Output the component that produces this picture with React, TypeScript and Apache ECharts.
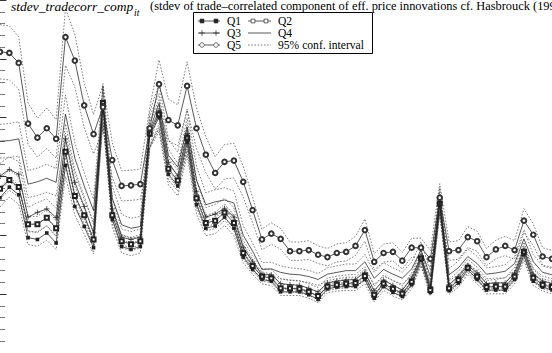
import React, { useEffect, useRef } from "react";
import * as echarts from "echarts";

// Periods (x categories; axis labels are cropped out of the reference)
const periods: string[] = Array.from({ length: 60 }, (_, i) => String(i + 1));

// stdev_tradecorr_comp by size quintile
const Q1 = [2.64, 2.82, 2.69, 1.96, 1.93, 2.04, 1.87, 3.19, 2.49, 2.15, 1.79, 4.27, 2.27, 1.81, 1.76, 1.81, 3.70, 4.00, 3.04, 2.84, 3.58, 2.52, 2.12, 2.16, 2.31, 2.12, 1.63, 1.42, 1.25, 1.22, 1.04, 1.04, 1.04, 0.99, 0.91, 1.09, 1.12, 1.13, 1.13, 1.25, 0.93, 1.13, 1.03, 0.96, 1.16, 1.58, 1.03, 2.52, 1.06, 1.19, 1.42, 1.25, 1.07, 1.07, 1.07, 1.25, 1.67, 1.22, 1.12, 1.07];
const Q2 = [2.79, 2.94, 2.82, 2.19, 2.19, 2.30, 2.12, 3.42, 2.67, 2.34, 1.93, 4.25, 2.34, 1.90, 1.85, 1.90, 3.73, 4.06, 3.13, 2.93, 3.66, 2.63, 2.21, 2.25, 2.39, 2.21, 1.70, 1.48, 1.30, 1.27, 1.10, 1.10, 1.09, 1.04, 0.97, 1.13, 1.16, 1.18, 1.19, 1.31, 0.99, 1.18, 1.09, 1.01, 1.21, 1.61, 1.07, 2.54, 1.10, 1.24, 1.45, 1.30, 1.12, 1.13, 1.13, 1.30, 1.72, 1.28, 1.16, 1.12];
const Q3 = [3.01, 3.12, 3.04, 2.31, 2.39, 2.45, 2.30, 3.64, 2.90, 2.49, 2.04, 4.24, 2.45, 1.97, 1.93, 1.97, 3.76, 4.12, 3.24, 3.01, 3.73, 2.75, 2.31, 2.36, 2.46, 2.31, 1.79, 1.55, 1.34, 1.33, 1.18, 1.16, 1.15, 1.10, 1.04, 1.19, 1.22, 1.24, 1.25, 1.37, 1.06, 1.24, 1.15, 1.07, 1.27, 1.64, 1.13, 2.57, 1.16, 1.30, 1.49, 1.36, 1.18, 1.19, 1.19, 1.36, 1.76, 1.34, 1.22, 1.18];
const Q4 = [3.60, 3.61, 3.64, 2.87, 2.91, 2.97, 2.90, 4.06, 3.31, 2.84, 2.42, 4.24, 2.63, 2.18, 2.12, 2.15, 3.79, 4.24, 3.36, 3.16, 3.84, 2.94, 2.52, 2.57, 2.60, 2.55, 2.00, 1.73, 1.42, 1.43, 1.37, 1.34, 1.33, 1.30, 1.25, 1.34, 1.37, 1.40, 1.40, 1.55, 1.27, 1.42, 1.34, 1.27, 1.43, 1.75, 1.30, 2.60, 1.33, 1.45, 1.64, 1.52, 1.34, 1.36, 1.39, 1.52, 1.94, 1.55, 1.37, 1.33];
const Q5 = [5.12, 5.10, 4.93, 3.90, 3.66, 3.82, 3.64, 5.37, 4.97, 4.21, 3.72, 4.18, 3.28, 2.84, 2.85, 2.87, 3.82, 4.57, 3.96, 3.87, 4.54, 3.82, 3.37, 3.06, 3.25, 3.27, 2.91, 2.43, 1.93, 2.03, 1.94, 1.73, 1.73, 1.75, 1.67, 1.63, 1.70, 1.72, 1.82, 2.09, 1.55, 1.70, 1.72, 1.57, 1.79, 1.79, 1.60, 2.64, 1.73, 1.75, 1.97, 1.90, 1.63, 1.76, 1.82, 1.75, 2.25, 2.01, 1.64, 1.60];

// 95% confidence-interval half-width, as a share of the estimate (read per quintile)
const CI_HALF_SHARE = [0.06, 0.06, 0.07, 0.08, 0.09];

const SERIES_NAMES = ["Q1", "Q2", "Q3", "Q4", "Q5"];
const CI_LABEL = "95% conf. interval";
const TITLE_VAR = "stdev_tradecorr_comp";
const TITLE_SUB = "it";
const TITLE_REST = "(stdev of trade–correlated component of eff. price innovations cf. Hasbrouck (1991))";

const SERIF = "'Liberation Serif', 'DejaVu Serif', 'Times New Roman', serif";
const INK = "#222";
const DOT = "#4a4a4a";
const PLUS = "path://M0,4L8,4M4,0L4,8";

export default function App() {
  const ref = useRef<HTMLDivElement>(null);

  useEffect(() => {
    if (!ref.current) return;
    const chart = echarts.init(ref.current, null, { renderer: "svg" });
    const data = [Q1, Q2, Q3, Q4, Q5];

    const markerStyles: any[] = [
      { symbol: "rect", symbolSize: 3.6, itemStyle: { color: INK } },
      { symbol: "emptyRect", symbolSize: 4, itemStyle: { color: INK, borderWidth: 0.7 } },
      { symbol: PLUS, symbolSize: 5.5, itemStyle: { color: "none", borderColor: INK, borderWidth: 0.7 } },
      { symbol: "none", symbolSize: 0, itemStyle: { color: INK } },
      { symbol: "emptyCircle", symbolSize: 4.6, itemStyle: { color: "#333", borderWidth: 0.7 } },
    ];

    const series: any[] = [];
    data.forEach((vals, qi) => {
      const h = CI_HALF_SHARE[qi];
      [1 + h, 1 - h].forEach((f) => {
        series.push({
          type: "line",
          name: CI_LABEL,
          data: vals.map((v) => +(v * f).toFixed(3)),
          symbol: "none",
          silent: true,
          z: 2,
          lineStyle: { color: DOT, width: 0.7, type: [1.6, 1.6] },
        });
      });
    });
    data.forEach((vals, qi) => {
      const m = markerStyles[qi];
      series.push({
        type: "line",
        name: SERIES_NAMES[qi],
        data: vals,
        symbol: m.symbol,
        symbolSize: m.symbolSize,
        showSymbol: m.symbol !== "none",
        itemStyle: m.itemStyle,
        z: 3 + qi,
        lineStyle: { color: INK, width: 0.75 },
      });
    });

    const ly = [21, 33, 45];
    const c1 = { l0: 198, l1: 220, m0: 202, m1: 216, tx: 227 };
    const c2 = { l0: 248, l1: 271, m0: 253, m1: 266, tx: 278 };
    const txt = (x: number, y: number, t: string) => ({
      type: "text",
      x,
      y,
      style: { text: t, fill: "#000", font: `11.6px ${SERIF}`, lineHeight: 11, verticalAlign: "middle" },
      z: 101,
    });
    const seg = (c: any, y: number, dashed = false) => ({
      type: "line",
      shape: { x1: c.l0, y1: y, x2: c.l1, y2: y },
      style: { stroke: dashed ? DOT : INK, lineWidth: 0.75, lineDash: dashed ? [1.6, 1.6] : null },
      z: 101,
    });
    const sq = (x: number, y: number, filled: boolean) => ({
      type: "rect",
      shape: { x: x - 1.9, y: y - 1.9, width: 3.8, height: 3.8 },
      style: { fill: filled ? INK : "#fff", stroke: INK, lineWidth: 0.7 },
      z: 102,
    });
    const plus = (x: number, y: number) => ({
      type: "group",
      z: 102,
      children: [
        { type: "line", shape: { x1: x - 2.8, y1: y, x2: x + 2.8, y2: y }, style: { stroke: INK, lineWidth: 0.7 }, z: 102 },
        { type: "line", shape: { x1: x, y1: y - 2.8, x2: x, y2: y + 2.8 }, style: { stroke: INK, lineWidth: 0.7 }, z: 102 },
      ],
    });
    const circ = (x: number, y: number) => ({
      type: "circle",
      shape: { cx: x, cy: y, r: 2.3 },
      style: { fill: "#fff", stroke: "#333", lineWidth: 0.7 },
      z: 102,
    });

    const graphic: any[] = [
      {
        type: "rect",
        shape: { x: 193.5, y: 12.5, width: 179, height: 41 },
        style: { fill: "#fff", stroke: "#000", lineWidth: 1 },
        z: 100,
      },
      seg(c1, ly[0]), sq(c1.m0, ly[0], true), sq(c1.m1, ly[0], true), txt(c1.tx, ly[0], SERIES_NAMES[0]),
      seg(c2, ly[0]), sq(c2.m0, ly[0], false), sq(c2.m1, ly[0], false), txt(c2.tx, ly[0], SERIES_NAMES[1]),
      seg(c1, ly[1]), plus(c1.m0, ly[1]), plus(c1.m1, ly[1]), txt(c1.tx, ly[1], SERIES_NAMES[2]),
      seg(c2, ly[1]), txt(c2.tx, ly[1], SERIES_NAMES[3]),
      seg(c1, ly[2]), circ(c1.m0, ly[2]), circ(c1.m1, ly[2]), txt(c1.tx, ly[2], SERIES_NAMES[4]),
      seg(c2, ly[2], true), txt(c2.tx, ly[2], CI_LABEL),
      {
        type: "text",
        x: 11,
        y: 6,
        style: { text: TITLE_VAR, fill: "#000", font: `italic 13.5px ${SERIF}`, verticalAlign: "middle" },
        z: 100,
      },
      {
        type: "text",
        x: 134,
        y: 12.5,
        style: { text: TITLE_SUB, fill: "#000", font: `italic 9.5px ${SERIF}`, verticalAlign: "middle" },
        z: 100,
      },
      {
        type: "text",
        x: 150,
        y: 6,
        style: { text: TITLE_REST, fill: "#000", font: `12.4px ${SERIF}`, verticalAlign: "middle" },
        z: 100,
      },
    ];

    chart.setOption({
      animation: false,
      backgroundColor: "#fff",
      grid: { left: -2.5, right: -3.7, top: -30, bottom: -19, containLabel: false },
      xAxis: { type: "category", data: periods, boundaryGap: false, show: false },
      yAxis: {
        type: "value",
        min: 0,
        max: 6,
        interval: 1,
        axisLine: { show: false },
        axisLabel: { show: false },
        splitLine: { show: false },
        axisTick: { show: true, inside: true, length: 6.5, lineStyle: { color: "#333", width: 1 } },
        minorTick: { show: true, splitNumber: 5, length: 5, lineStyle: { color: "#555", width: 0.8 } },
      },
      series,
      graphic,
    });

    return () => chart.dispose();
  }, []);

  return (
    <div style={{ position: "fixed", left: 0, top: 0, width: 552, height: 353, background: "#fff", overflow: "hidden" }}>
      <div ref={ref} style={{ width: 552, height: 353 }} />
    </div>
  );
}
